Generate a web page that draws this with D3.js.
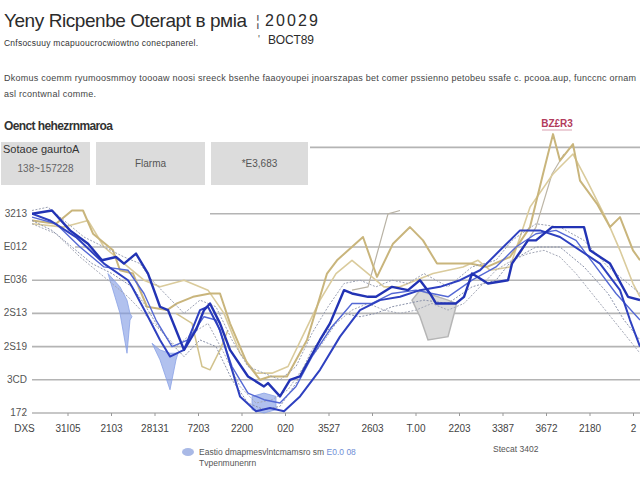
<!DOCTYPE html>
<html lang="en">
<head>
<meta charset="utf-8">
<script src="https://d3js.org/d3.v7.min.js"></script>
<title>chart</title>
<style>
  body { margin: 0; background: #fff; font-family: "Liberation Sans", Arial, sans-serif; }
</style>
</head>
<body>
<script>

// axis labels
var xLabels = ["DXS", "31I05", "2103", "28131", "7203", "2200", "020", "3527", "2603", "T.00", "2203", "3387", "3672", "2180", "2"];
var yTicks = [0, 10, 20, 30, 40, 50, 60];
var yLabels = ["172", "3CD", "2S19", "2S13", "E036", "E012", "3213"];

// series values [time index, value]
var darkA = [[0,60],[5,61],[9.5,55],[14,51],[17.5,46],[21,47],[23,45],[26,48],[29,42],[32,32],[34,31],[36,25],[38,19],[41,25],[43,31],[44.5,33],[47,27],[49.5,19],[54,11],[58,8],[59,9],[62,5],[64.5,10],[67,11],[72,22],[74.5,27],[78,37],[80,36],[84,35],[86,35],[90,38],[94,37],[97,40],[99.5,36],[101,33],[106,33],[108,35],[110,42],[114,39],[119,40],[120,45],[124,52],[126,52],[130,56],[138,56],[139.5,49],[144.5,45],[149,35],[152,34]];
var darkB = [[0,60],[4.5,58],[11,53],[18,45],[24,40],[25,38],[29,29],[32,22],[34.5,17],[38,19],[42,31],[44,32],[47,25],[52,5],[56,0.5],[59.5,1.5],[63,0.5],[67,5],[72,13],[77,23],[82,31],[87,34],[92,35],[97,37],[102,38],[107,40],[112,43],[117,49],[122,55],[127,55],[132,53],[142,45],[147,37],[149.5,28],[152,20]];
var midC = [[0,59],[6,57],[12,50],[18,44],[24,43],[28,36],[31,28],[35,20],[39,22],[43,29],[46,28],[50,14],[54,6],[58,4],[62,3],[66,8],[70,17],[75,26],[80,33],[85,33],[90,36],[96,37],[100,36],[104,35],[110,40],[116,44],[121,50],[126,54],[131,55],[136,52],[141,44],[146,36],[152,28]];
var grayG1 = [[0,58],[5,55],[10,50],[15,45],[20,42],[25,38],[28,33],[31,27],[34,22],[38,17],[42,22],[46,20],[50,10],[54,3],[58,1],[62,2],[66,9],[70,19],[74,25],[78,30],[82,29],[86,30],[90,32],[94,33],[98,34],[104,33],[110,38],[116,40],[120,46],[126,50],[132,50],[138,44],[144,36],[148,28],[152,22]];
var grayG2 = [[0,61],[4,62],[8,58],[13,53],[18,50],[23,47],[27,45],[30,40],[34,35],[38,30],[42,34],[46,32],[50,22],[54,14],[58,12],[62,10],[66,14],[70,24],[74,32],[78,39],[82,40],[86,38],[90,40],[94,39],[98,42],[104,38],[110,44],[116,46],[120,52],[126,57],[132,56],[138,52],[144,44],[148,40],[152,36]];
var grayG3 = [[0,57],[6,54],[12,47],[18,41],[24,35],[28,30],[32,25],[36,20],[40,24],[44,27],[48,18],[52,8],[56,3],[60,4],[64,7],[68,14],[72,20],[76,27],[80,31],[84,33],[88,31],[92,30],[96,31],[100,33],[104,31],[108,33],[112,38],[116,43],[120,46],[124,48],[128,49],[132,47],[136,42],[140,36],[144,30],[148,24],[152,18]];
var tan1 = [[0,58],[6,57],[10,61],[12.75,61],[15.25,54],[20.25,49],[22,43],[25.25,42],[28.75,32],[33.75,31],[36.25,33],[40.25,35],[44.5,36],[47,36],[49.5,27],[53.75,15],[57,10],[59.5,11],[63.75,11],[68.75,22],[73.75,42],[76.25,46],[82.75,53],[86.25,41],[90.25,51],[94.5,56],[97.75,52],[101.25,45],[109.5,45],[113.75,44],[119.5,47],[124.5,56],[127.75,72],[130.25,84],[132,76],[135.25,81],[137,70],[141.25,63],[144.5,56],[147,59],[150.25,49],[152,46]];
var tan2 = [[0,57],[8,56],[14,58],[18,50],[24,44],[28,40],[32,38],[38,40],[44,37],[48,30],[52,18],[56,12],[60,12],[64,14],[68,24],[72,34],[76,42],[80,46],[84,42],[88,38],[92,38],[96,40],[100.25,42],[107.75,44],[111.5,46],[114.5,43],[119.5,44],[124.5,62],[130.25,72],[135.25,78],[138.75,70],[143.75,58],[147,49],[150.25,39],[152,35]];
var tan3 = [[36,30],[40,27],[42.5,14],[44.5,13],[47,19],[49,25]];
var thinGray1 = [[80,37],[84,38],[89,60],[92,61]];
var thinGray2 = [[122,48],[126,56],[130,72],[133,78]];

// shaded bands [time index, top, bottom]
var spike1 = [[19,42,42],[22,38,30],[23.75,34,18],[24.5,30,28],[25,29,29]];
var spike2 = [[30,21,21],[32,19,16],[34.5,18,7],[36,18,16],[36.5,18,18]];
var spike3 = [[55,5,1],[58,6,0],[61,5,1]];
var grayBand = [[95,34,34],[97,37,29],[99,36,22],[104,34,23],[106,33,32]];

var svg = d3.select("body").append("svg")
    .attr("width", 640)
    .attr("height", 480);

var x = d3.scaleLinear().domain([0, 152]).range([32, 640]);
var y = d3.scaleLinear().domain([0, 80]).range([413, 147.4]);

// header texts
svg.append("text").attr("x", 4).attr("y", 27)
  .attr("font-size", 19).attr("fill", "#2b2b2b")
  .attr("textLength", 243).text("Yeny Ricpenbe Oterapt в pмia");
svg.append("text").attr("x", 256).attr("y", 26).attr("font-size", 14).attr("fill", "#555").text("¦");
svg.append("text").attr("x", 265).attr("y", 26)
  .attr("font-size", 16).attr("fill", "#2b2b2b").attr("textLength", 53).text("20029");
svg.append("text").attr("x", 258).attr("y", 43).attr("font-size", 10).attr("fill", "#555").text("'");
svg.append("text").attr("x", 268).attr("y", 44)
  .attr("font-size", 12).attr("fill", "#2b2b2b").attr("textLength", 46).text("BOCT89");
svg.append("text").attr("x", 4).attr("y", 46)
  .attr("font-size", 8.5).attr("fill", "#333")
  .attr("textLength", 194).text("Cnfsocsuuy mcapuoucrocwiowtno conecpanerel.");

svg.append("text").attr("x", 4).attr("y", 81)
  .attr("font-size", 9).attr("fill", "#444")
  .attr("textLength", 632)
  .text("Dkomus coemm ryumoosmmoy toooaw noosi sreeck bsenhe faaoyoupei jnoarszapas bet comer pssienno petobeu ssafe c. pcooa.aup, funccnc ornam");
svg.append("text").attr("x", 4).attr("y", 97)
  .attr("font-size", 9).attr("fill", "#444")
  .attr("textLength", 92).text("asl rcontwnal comme.");

svg.append("text").attr("x", 4).attr("y", 130)
  .attr("font-size", 12).attr("font-weight", "bold").attr("fill", "#333")
  .attr("textLength", 109).text("Oenct hehezrnmaroa");

// summary boxes
var boxes = [
  {x0: 1, x1: 90, head: "Sotaoe gaurtoA", body: "138~157228"},
  {x0: 96, x1: 205, head: "", body: "Flarma"},
  {x0: 211, x1: 308, head: "", body: "*E3,683"}
];
boxes.forEach(function(b) {
  svg.append("rect").attr("x", b.x0).attr("y", 142)
    .attr("width", b.x1 - b.x0).attr("height", 43).attr("fill", "#dcdcdc");
  if (b.head) {
    svg.append("text").attr("x", b.x0 + 2).attr("y", 153)
      .attr("font-size", 11).attr("fill", "#333").text(b.head);
    svg.append("text").attr("x", (b.x0 + b.x1) / 2).attr("y", 172)
      .attr("text-anchor", "middle").attr("font-size", 10).attr("fill", "#666").text(b.body);
  } else {
    svg.append("text").attr("x", (b.x0 + b.x1) / 2).attr("y", 167)
      .attr("text-anchor", "middle").attr("font-size", 10).attr("fill", "#555").text(b.body);
  }
});

// gridlines
var gridStart = {0: 32, 10: 32, 20: 32, 30: 32, 40: 32, 50: 75, 60: 210, 80: 310};
svg.append("g").selectAll("line")
  .data([0, 10, 20, 30, 40, 50, 60, 80])
  .enter().append("line")
    .attr("x1", function(d) { return gridStart[d]; })
    .attr("x2", 640)
    .attr("y1", function(d) { return y(d); })
    .attr("y2", function(d) { return y(d); })
    .attr("stroke", "#b4b4b4")
    .attr("stroke-width", 1.6);

// y labels
svg.append("g").selectAll("text")
  .data(yTicks)
  .enter().append("text")
    .attr("x", 27)
    .attr("y", function(d) { return y(d) + 3; })
    .attr("text-anchor", "end")
    .attr("font-size", 10)
    .attr("fill", "#555")
    .text(function(d, i) { return yLabels[i]; });

// x axis
var xl = d3.scalePoint().domain(xLabels).range([24, 633]);
var xAxis = svg.append("g")
  .attr("transform", "translate(0,413)")
  .call(d3.axisBottom(xl).tickSize(3).tickPadding(9));
xAxis.select(".domain").remove();
xAxis.selectAll("line").attr("stroke", "#999");
xAxis.selectAll("text").attr("font-size", 10).attr("fill", "#444")
  .attr("font-family", "\"Liberation Sans\", Arial, sans-serif");

// plot
var plot = svg.append("g");
svg.append("clipPath").attr("id", "clip").append("rect")
  .attr("x", 32).attr("y", 110).attr("width", 608).attr("height", 306);
plot.attr("clip-path", "url(#clip)");

var band = d3.area()
  .x(function(d) { return x(d[0]); })
  .y0(function(d) { return y(d[2]); })
  .y1(function(d) { return y(d[1]); });

var line = d3.line()
  .x(function(d) { return x(d[0]); })
  .y(function(d) { return y(d[1]); });

plot.append("path").datum(grayBand).attr("d", band)
  .attr("fill", "#dadada").attr("stroke", "#b5b5b5").attr("stroke-width", 1.5);

[spike1, spike2, spike3].forEach(function(s) {
  plot.append("path").datum(s).attr("d", band)
    .attr("fill", "#7d98e2").attr("fill-opacity", 0.6)
    .attr("stroke", "#8aa2e6").attr("stroke-width", 0.8);
});

function drawLine(data, color, w, dash, op) {
  plot.append("path").datum(data).attr("d", line)
    .attr("fill", "none")
    .attr("stroke", color)
    .attr("stroke-width", w)
    .attr("stroke-dasharray", dash || null)
    .attr("stroke-opacity", op || 1)
    .attr("stroke-linejoin", "round");
}

drawLine(thinGray1, "#b8b2a4", 1.2);
drawLine(thinGray2, "#bdb6a6", 1.2);
drawLine(tan2, "#dacb9c", 1.6);
drawLine(tan1, "#c9b57c", 2);
drawLine(tan3, "#d2c38e", 1.5);
drawLine(grayG1, "#8a92aa", 1, "2,1.5");
drawLine(grayG2, "#9aa0b2", 1, "2,1.5");
drawLine(grayG3, "#a4a8b6", 1, "2,1.5");
drawLine(midC, "#5468d4", 1.4);
drawLine(darkB, "#2e40c0", 2);
drawLine(darkA, "#2233b4", 2.4);

// red marker label
svg.append("text").attr("x", 557).attr("y", 127)
  .attr("text-anchor", "middle").attr("font-size", 10).attr("font-weight", "bold")
  .attr("fill", "#b23b5c").text("BZ£R3");
svg.append("line").attr("x1", 542).attr("x2", 572).attr("y1", 130).attr("y2", 130)
  .attr("stroke", "#d9a0b0").attr("stroke-width", 1);

// legend
svg.append("ellipse").attr("cx", 188).attr("cy", 452).attr("rx", 6).attr("ry", 4)
  .attr("fill", "#a9b9e6");
var lg = svg.append("text").attr("x", 199).attr("y", 455).attr("font-size", 8.5).attr("fill", "#555");
lg.append("tspan").text("Eastio dmapmesvlntcmamsro  sm ");
lg.append("tspan").attr("fill", "#6f8fd6").text("E0.0 08");
svg.append("text").attr("x", 199).attr("y", 466).attr("font-size", 8.5).attr("fill", "#555")
  .text("Tvpenmunenrn");
svg.append("text").attr("x", 493).attr("y", 452).attr("font-size", 8.5).attr("fill", "#555")
  .text("Stecat 3402");

</script>
</body>
</html>
